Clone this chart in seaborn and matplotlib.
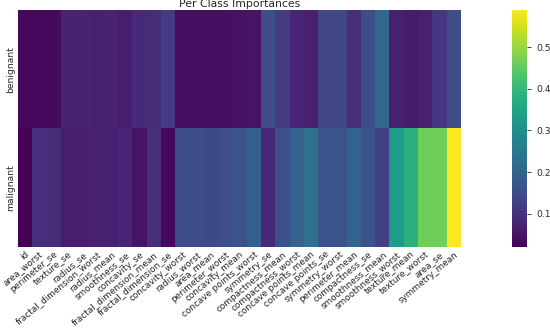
import matplotlib
matplotlib.use("Agg")
import matplotlib.pyplot as plt
import seaborn as sns
import pandas as pd

features = ["id", "area_worst", "perimeter_se", "texture_se", "radius_se",
            "fractal_dimension_worst", "radius_mean", "smoothness_se", "concavity_se",
            "fractal_dimension_mean", "fractal_dimension_se", "concavity_worst",
            "radius_worst", "area_mean", "perimeter_worst", "concavity_mean",
            "concave points_worst", "symmetry_se", "compactness_mean", "compactness_worst",
            "concave points_mean", "concave points_se", "symmetry_worst", "perimeter_mean",
            "compactness_se", "smoothness_mean", "smoothness_worst", "texture_mean",
            "texture_worst", "area_se", "symmetry_mean"]
classes = ["benignant", "malignant"]

benignant = [0.032, 0.032, 0.034, 0.075, 0.075, 0.07, 0.075, 0.065, 0.085, 0.09, 0.12,
             0.038, 0.038, 0.04, 0.042, 0.045, 0.048, 0.15, 0.12, 0.08, 0.07, 0.14,
             0.14, 0.095, 0.15, 0.21, 0.07, 0.06, 0.07, 0.11, 0.15]
malignant = [0.02, 0.095, 0.09, 0.065, 0.065, 0.07, 0.07, 0.08, 0.048, 0.095, 0.032,
             0.15, 0.15, 0.145, 0.155, 0.165, 0.19, 0.085, 0.16, 0.2, 0.23, 0.165,
             0.165, 0.2, 0.165, 0.125, 0.33, 0.385, 0.465, 0.465, 0.59]

df = pd.DataFrame([benignant, malignant], index=classes, columns=features)

sns.set_theme(style="white")
plt.rcParams['font.family'] = ['DejaVu Sans']

fig = plt.figure(figsize=(5.5, 3.28), dpi=100)
ax = fig.add_axes([0.033, 0.247, 0.805, 0.723])
cax = fig.add_axes([0.931, 0.247, 0.027, 0.723])

sns.heatmap(df, ax=ax, cbar_ax=cax, cmap="viridis")
ax.set_title("Per Class Importances", fontsize=7.8, pad=2)
ax.set_xticks([i + 0.5 for i in range(len(features))])
ax.set_xticklabels(features, rotation=40, ha="right", rotation_mode="anchor", fontsize=6.4)
ax.set_yticklabels(classes, rotation=90, va="center", fontsize=6.6)
ax.tick_params(axis="both", length=0, pad=2)
cax.tick_params(labelsize=6.6, length=3, width=0.6)
cax.set_yticks([0.1, 0.2, 0.3, 0.4, 0.5])

fig.savefig("out.png", dpi=100)
